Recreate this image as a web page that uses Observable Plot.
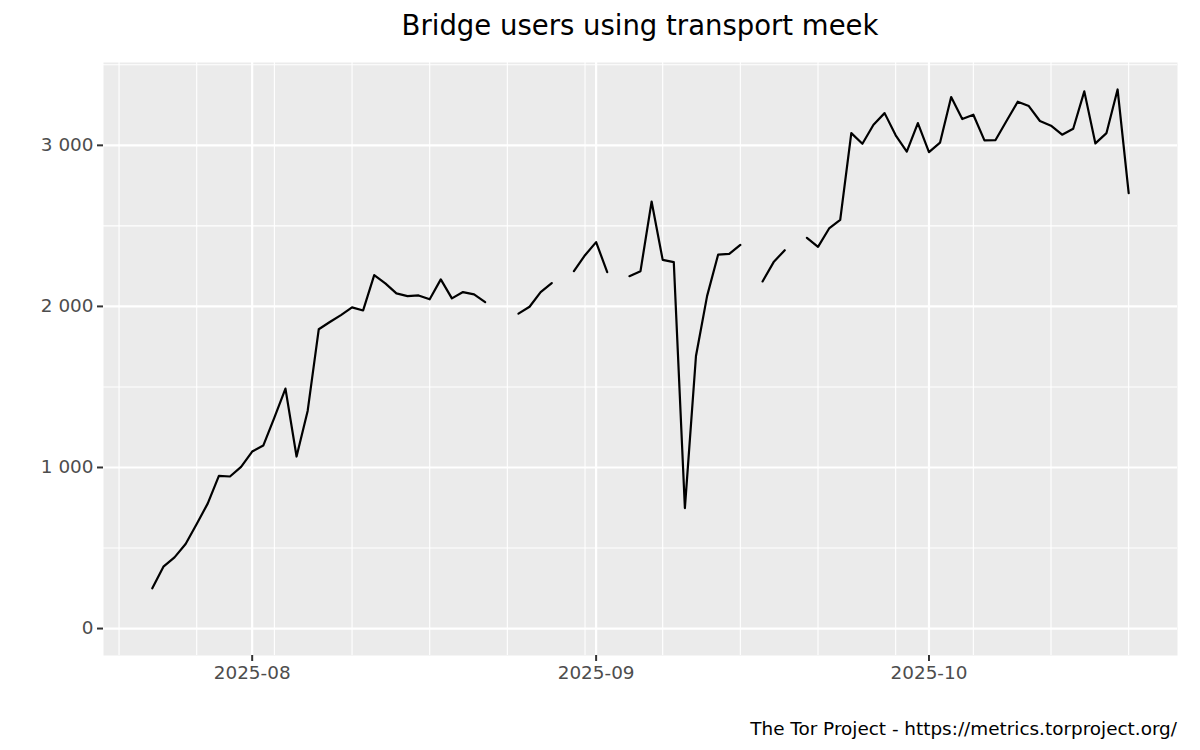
<!DOCTYPE html>
<html><head><meta charset="utf-8">
<script src="https://cdn.jsdelivr.net/npm/d3@7"></script>
<script src="https://cdn.jsdelivr.net/npm/@observablehq/plot@0.6"></script>
<style>
body{margin:0;background:#fff;font-family:"DejaVu Sans",sans-serif;}
#wrap{position:relative;width:1200px;height:750px;overflow:hidden;}
#title{position:absolute;left:103px;width:1074px;top:12px;text-align:center;font-size:27.5px;line-height:1;color:#000;white-space:nowrap;}
#chart{position:absolute;left:0;top:50px;}
#caption{position:absolute;right:23px;top:720px;font-size:18.4px;line-height:1;color:#000;white-space:nowrap;}
</style></head><body>
<div id="wrap">
<div id="title">Bridge users using transport meek</div>
<div id="chart"></div>
<div id="caption">The Tor Project - https://metrics.torproject.org/</div>
</div>
<script>
const dates = [
"2025-07-23","2025-07-24","2025-07-25","2025-07-26","2025-07-27","2025-07-28","2025-07-29","2025-07-30","2025-07-31",
"2025-08-01","2025-08-02","2025-08-03","2025-08-04","2025-08-05","2025-08-06","2025-08-07","2025-08-08","2025-08-09","2025-08-10",
"2025-08-11","2025-08-12","2025-08-13","2025-08-14","2025-08-15","2025-08-16","2025-08-17","2025-08-18","2025-08-19","2025-08-20",
"2025-08-21","2025-08-22","2025-08-23","2025-08-24","2025-08-25","2025-08-26","2025-08-27","2025-08-28","2025-08-29","2025-08-30","2025-08-31",
"2025-09-01","2025-09-02","2025-09-03","2025-09-04","2025-09-05","2025-09-06","2025-09-07","2025-09-08","2025-09-09","2025-09-10",
"2025-09-11","2025-09-12","2025-09-13","2025-09-14","2025-09-15","2025-09-16","2025-09-17","2025-09-18","2025-09-19","2025-09-20",
"2025-09-21","2025-09-22","2025-09-23","2025-09-24","2025-09-25","2025-09-26","2025-09-27","2025-09-28","2025-09-29","2025-09-30",
"2025-10-01","2025-10-02","2025-10-03","2025-10-04","2025-10-05","2025-10-06","2025-10-07","2025-10-08","2025-10-09","2025-10-10",
"2025-10-11","2025-10-12","2025-10-13","2025-10-14","2025-10-15","2025-10-16","2025-10-17","2025-10-18","2025-10-19"
];
const users = [
250,384,442,525,649,777,948,944,1004,
1099,1136,1310,1490,1068,1351,1858,1903,1946,1994,
1975,2194,2143,2081,2064,2068,2044,2168,2050,2089,
2075,2027,null,null,1955,1998,2089,2145,null,2219,2318,
2399,2213,null,2188,2219,2651,2289,2275,748,1692,
2064,2322,2326,2382,null,2155,2275,2349,null,2426,
2370,2484,2537,3076,3010,3128,3200,3062,2961,3138,
2958,3017,3300,3163,3190,3031,3033,3153,3271,3244,
3151,3122,3066,3103,3335,3012,3076,3347,2703
];
const xDomain = ["2025-07-18T14:24:00Z","2025-10-23T09:36:00Z"];
const monthTicks = ["2025-08-01","2025-09-01","2025-10-01"];
const weekMinor = ["2025-07-20","2025-07-27","2025-08-03","2025-08-10","2025-08-17","2025-08-24","2025-08-31","2025-09-07","2025-09-14","2025-09-21","2025-09-28","2025-10-05","2025-10-12","2025-10-19"];
const yDomain = [-167.35, 3514.35];
const yTicks = [0,1000,2000,3000];
const yMinor = [500,1500,2500,3500];

const data = dates.map((d,i)=>({date:new Date(d+"T00:00:00Z"), users:users[i]}));
const mt = monthTicks.map(d=>new Date(d+"T00:00:00Z"));
const wm = weekMinor.map(d=>new Date(d+"T00:00:00Z"));
const fmtY = d => d3.format(",")(d).replace(/,/g," ");

const chart = Plot.plot({
  width:1200, height:660,
  marginTop:12, marginBottom:55, marginLeft:103, marginRight:23,
  style:{fontFamily:"DejaVu Sans", fontSize:"18.4px", color:"#4D4D4D", background:"transparent", overflow:"visible"},
  x:{type:"utc", domain:xDomain.map(d=>new Date(d)), label:null},
  y:{domain:yDomain, label:null},
  marks:[
    Plot.frame({fill:"#EBEBEB", stroke:null}),
    Plot.ruleX(wm, {stroke:"white", strokeWidth:1.1}),
    Plot.ruleY(yMinor, {stroke:"white", strokeWidth:1.1}),
    Plot.ruleX(mt, {stroke:"white", strokeWidth:2.2}),
    Plot.ruleY(yTicks, {stroke:"white", strokeWidth:2.2}),
    Plot.line(data, {x:"date", y:"users", stroke:"black", strokeWidth:2.2}),
    Plot.axisX({ticks:mt, tickFormat:d3.utcFormat("%Y-%m"), tickSize:6, tickPadding:4, stroke:"#333333", strokeWidth:2, fill:"#4D4D4D", label:null}),
    Plot.axisY({ticks:yTicks, tickFormat:fmtY, tickSize:6, tickPadding:4, stroke:"#333333", strokeWidth:2, fill:"#4D4D4D", label:null})
  ]
});
document.getElementById("chart").appendChild(chart);
</script>
</body></html>
